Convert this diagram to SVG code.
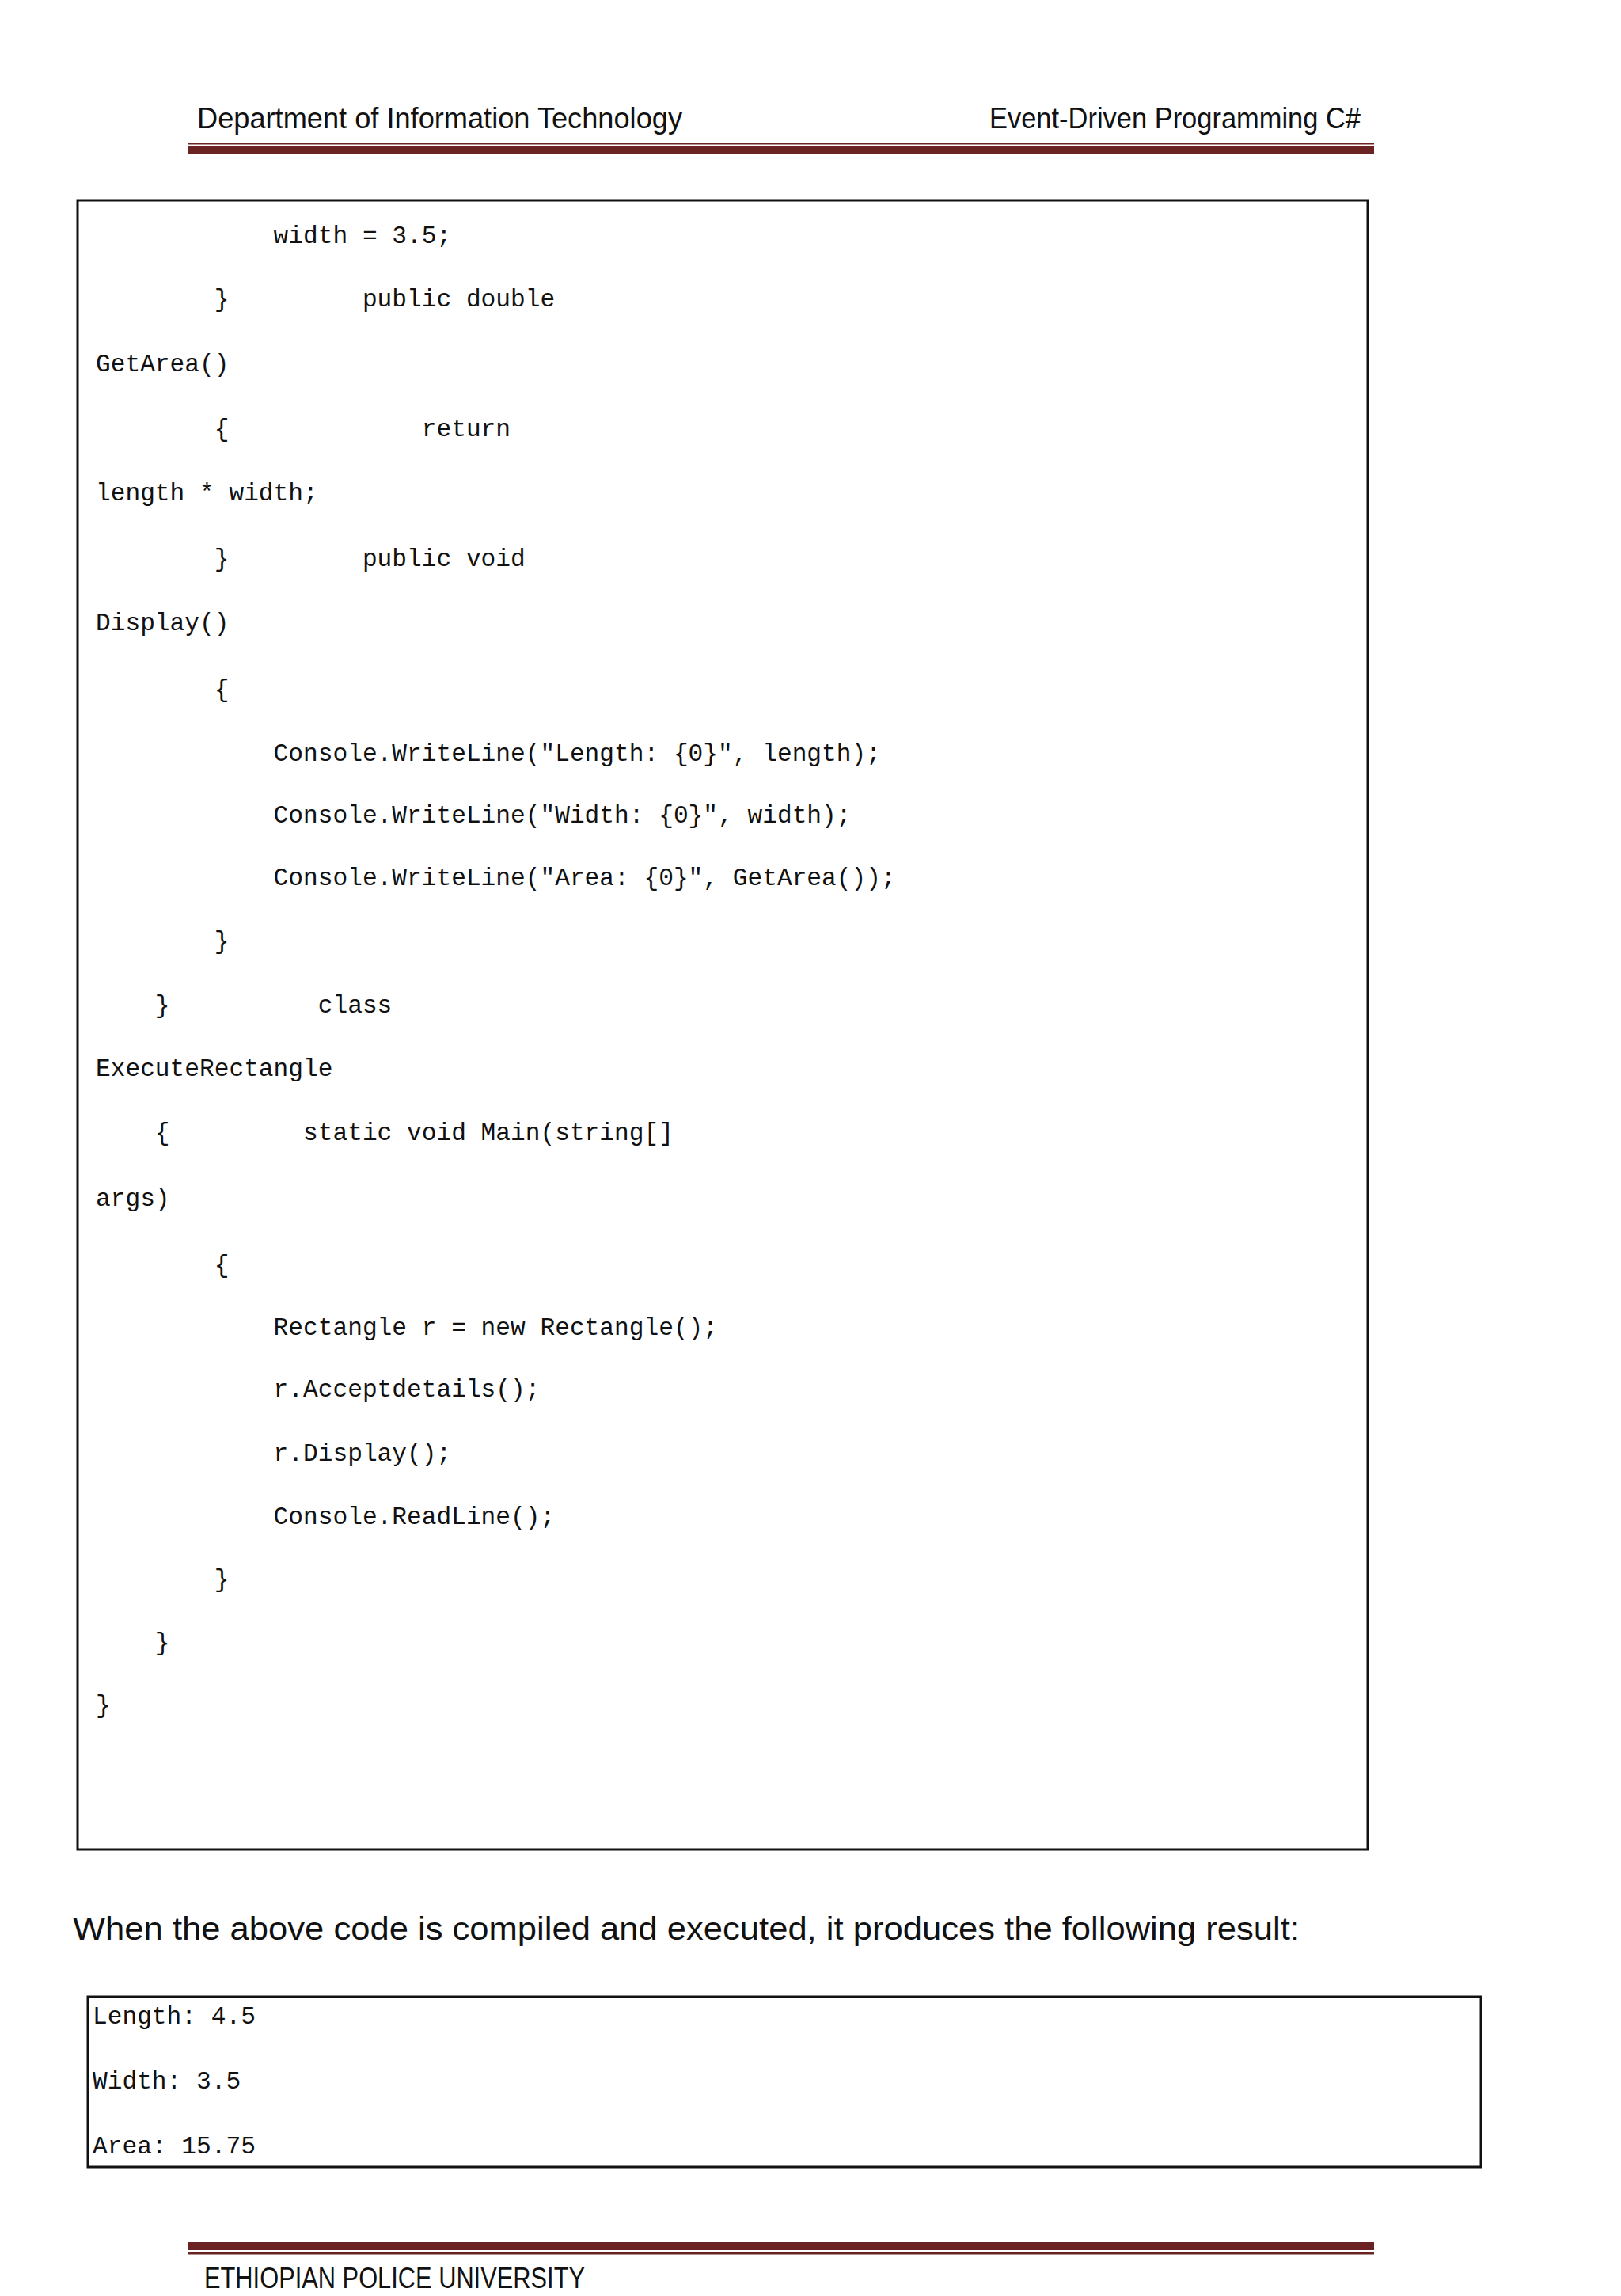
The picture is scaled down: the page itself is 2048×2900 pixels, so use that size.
<svg xmlns="http://www.w3.org/2000/svg" width="2048" height="2900" viewBox="0 0 2048 2900">
<style>
.h{font-family:"Liberation Sans Narrow","Liberation Sans",sans-serif;font-size:36px;fill:#111}
.c{font-family:"Liberation Mono",monospace;font-size:31.2px;fill:#111;white-space:pre}
.p{font-family:"Liberation Sans",sans-serif;font-size:40px;fill:#111}
.box{fill:none;stroke:#111;stroke-width:3}
</style>
<rect width="2048" height="2900" fill="#fff"/>
<g id="header">
<text class="h" x="249" y="162" textLength="613" lengthAdjust="spacingAndGlyphs">Department of Information Technology</text>
<text class="h" x="1250" y="162" textLength="469" lengthAdjust="spacingAndGlyphs">Event-Driven Programming C#</text>
<rect x="238" y="180" width="1498" height="2.5" fill="#6b2222"/>
<rect x="238" y="185" width="1498" height="10" fill="#6b2222"/>
</g>
<g id="code">
<rect class="box" x="98" y="253" width="1630" height="2083"/>
<g xml:space="preserve">
<text class="c" x="121" y="307">            width = 3.5;</text>
<text class="c" x="121" y="387">        }         public double</text>
<text class="c" x="121" y="469">GetArea()</text>
<text class="c" x="121" y="551">        {             return</text>
<text class="c" x="121" y="632">length * width;</text>
<text class="c" x="121" y="715">        }         public void</text>
<text class="c" x="121" y="796">Display()</text>
<text class="c" x="121" y="880">        {</text>
<text class="c" x="121" y="961">            Console.WriteLine("Length: {0}", length);</text>
<text class="c" x="121" y="1039">            Console.WriteLine("Width: {0}", width);</text>
<text class="c" x="121" y="1118">            Console.WriteLine("Area: {0}", GetArea());</text>
<text class="c" x="121" y="1198">        }</text>
<text class="c" x="121" y="1279">    }          class</text>
<text class="c" x="121" y="1359">ExecuteRectangle</text>
<text class="c" x="121" y="1440">    {         static void Main(string[]</text>
<text class="c" x="121" y="1523">args)</text>
<text class="c" x="121" y="1607">        {</text>
<text class="c" x="121" y="1686">            Rectangle r = new Rectangle();</text>
<text class="c" x="121" y="1764">            r.Acceptdetails();</text>
<text class="c" x="121" y="1845">            r.Display();</text>
<text class="c" x="121" y="1925">            Console.ReadLine();</text>
<text class="c" x="121" y="2004">        }</text>
<text class="c" x="121" y="2084">    }</text>
<text class="c" x="121" y="2163">}</text>
</g>
</g>
<text class="p" x="92" y="2450" textLength="1550" lengthAdjust="spacingAndGlyphs">When the above code is compiled and executed, it produces the following result:</text>
<g id="output">
<rect class="box" x="111" y="2522" width="1760" height="215"/>
<text class="c" x="117" y="2556">Length: 4.5</text>
<text class="c" x="117" y="2638">Width: 3.5</text>
<text class="c" x="117" y="2720">Area: 15.75</text>
</g>
<g id="footer">
<rect x="238" y="2832" width="1498" height="10" fill="#6b2222"/>
<rect x="238" y="2845" width="1498" height="2.5" fill="#6b2222"/>
<text class="h" x="258" y="2890" textLength="481" lengthAdjust="spacingAndGlyphs">ETHIOPIAN POLICE UNIVERSITY</text>
</g>
</svg>
